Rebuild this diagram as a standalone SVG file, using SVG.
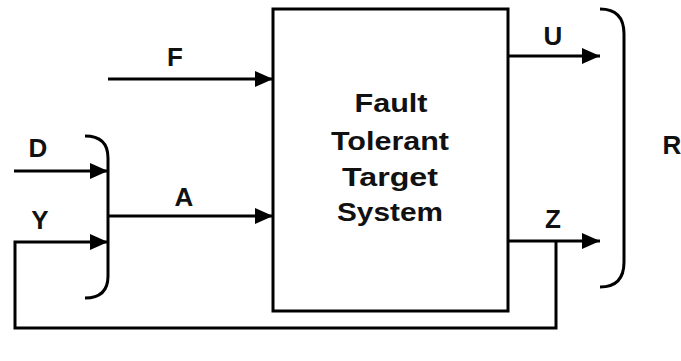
<svg xmlns="http://www.w3.org/2000/svg" width="681" height="361" viewBox="0 0 681 361">
  <style>
    .ln { fill: none; stroke: #000; stroke-width: 3; }
    .lbl { font-family: "Liberation Sans", Arial, sans-serif; font-weight: bold; font-size: 26px; fill: #111; text-anchor: middle; }
    .title { font-family: "Liberation Sans", Arial, sans-serif; font-weight: bold; font-size: 26px; fill: #111; text-anchor: middle; }
  </style>
  <defs>
    <marker id="arrow" markerUnits="userSpaceOnUse" markerWidth="19" markerHeight="18" refX="18" refY="9" orient="auto">
      <path d="M0,1 L18,9 L0,17 z" fill="#000"/>
    </marker>
  </defs>
  <rect width="681" height="361" fill="#fff"/>

  <!-- central system block -->
  <g id="system">
    <rect x="273" y="9" width="235" height="302" class="ln"/>
    <text class="title" x="391" y="112" textLength="73" lengthAdjust="spacingAndGlyphs">Fault</text>
    <text class="title" x="390" y="150" textLength="118" lengthAdjust="spacingAndGlyphs">Tolerant</text>
    <text class="title" x="390" y="186" textLength="96" lengthAdjust="spacingAndGlyphs">Target</text>
    <text class="title" x="390" y="221" textLength="106" lengthAdjust="spacingAndGlyphs">System</text>
  </g>

  <!-- input bracket combining D and Y -->
  <g id="input-bracket">
    <path class="ln" d="M85,136 Q108,136 108,158 L108,276 Q108,298 85,298"/>
  </g>

  <!-- output bracket grouping U and Z -->
  <g id="output-bracket">
    <path class="ln" d="M600,9 Q624,9 624,34 L624,262 Q624,287 600,287"/>
    <text class="lbl" x="672" y="154">R</text>
  </g>

  <!-- signal labels -->
  <g id="labels">
    <text class="lbl" x="175" y="66">F</text>
    <text class="lbl" x="38" y="157">D</text>
    <text class="lbl" x="40" y="229">Y</text>
    <text class="lbl" x="184" y="206">A</text>
    <text class="lbl" x="553" y="45">U</text>
    <text class="lbl" x="553" y="228">Z</text>
  </g>

  <!-- connectors -->
  <g id="connectors">
    <path class="ln" d="M108,79 H273" marker-end="url(#arrow)"/>
    <path class="ln" d="M14,171 H108" marker-end="url(#arrow)"/>
    <path class="ln" d="M556,241 V328 H15 V242 H108" marker-end="url(#arrow)"/>
    <path class="ln" d="M108,216 H273" marker-end="url(#arrow)"/>
    <path class="ln" d="M508,56 H600" marker-end="url(#arrow)"/>
    <path class="ln" d="M508,241 H600" marker-end="url(#arrow)"/>
  </g>
</svg>
